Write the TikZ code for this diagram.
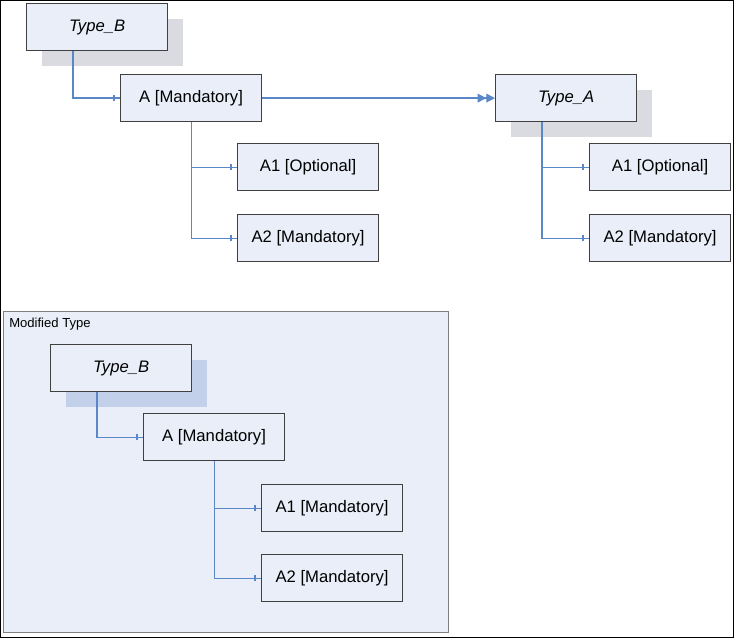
\documentclass[tikz,border=0pt]{standalone}
\usepackage{fontspec}
\setmainfont{Liberation Sans}
\usetikzlibrary{arrows.meta,shadows,decorations.markings}

\definecolor{boxfill}{HTML}{E9EEF8}
\definecolor{boxline}{HTML}{404040}
\definecolor{framegray}{HTML}{7F7F7F}
\definecolor{shadowgray}{HTML}{D9DBE1}
\definecolor{modshadow}{HTML}{C2D0EA}
\definecolor{linkblue}{HTML}{5A87C8}

\begin{document}
\begin{tikzpicture}[x=0.75pt,y=-0.75pt,
    item/.style={draw=boxline, line width=0.9pt, fill=boxfill, anchor=north west,
        minimum width=105.75pt, minimum height=35.25pt, inner sep=0pt,
        font=\fontsize{12.5}{15}\selectfont},
    typebox/.style={item, font=\fontsize{12.5}{15}\selectfont\itshape,
        drop shadow={shadow xshift=11.25pt, shadow yshift=-11.25pt, fill=shadowgray, opacity=1}},
    modtype/.style={item, font=\fontsize{12.5}{15}\selectfont\itshape,
        drop shadow={shadow xshift=11.25pt, shadow yshift=-11.25pt, fill=modshadow, opacity=1}},
    link/.style={color=linkblue, line width=0.9pt},
    tickend/.style={link, postaction={decorate},
        decoration={markings, mark=at position 1 with {\draw[link] (-4.5pt,-2.4pt) -- (-4.5pt,2.4pt);}}}
]
    \useasboundingbox (0,0) rectangle (734,638);
    \draw[black, line width=0.9pt] (0.5,0.5) rectangle (733.5,637.4);

    % original type
    \node[typebox] (tb) at (26,3) {Type\_B};
    \node[item] (am) at (120,74) {A [Mandatory]};
    \node[item] (ao) at (237,143) {A1 [Optional]};
    \node[item] (aw) at (237,214) {A2 [Mandatory]};

    \node[typebox] (ta) at (495,74) {Type\_A};
    \node[item] (tao) at (589,143) {A1 [Optional]};
    \node[item] (taw) at (589,214) {A2 [Mandatory]};

    \draw[tickend] ([xshift=35.25pt]tb.south west) |- (am.west);
    \draw[tickend] (am.south) |- (ao.west);
    \draw[tickend] (am.south) |- (aw.west);
    \draw[link, -{Triangle[length=6.5pt,width=6.5pt]Triangle[length=6.5pt,width=6.5pt]}] (am.east) -- (ta.west);

    \draw[tickend] ([xshift=35.25pt]ta.south west) |- (tao.west);
    \draw[tickend] ([xshift=35.25pt]ta.south west) |- (taw.west);

    % modified type
    \node[draw=framegray, line width=0.9pt, fill=boxfill, anchor=north west,
        minimum width=333.75pt, minimum height=240.75pt, inner sep=0pt] (mod) at (3,311) {};
    \node[anchor=west, inner sep=0pt, font=\fontsize{9.8}{12}\selectfont] (modlabel) at (9,324) {Modified Type};

    \node[modtype] (mb) at (50,344) {Type\_B};
    \node[item] (mm) at (143,413) {A [Mandatory]};
    \node[item] (m1) at (261,484) {A1 [Mandatory]};
    \node[item] (m2) at (261,554) {A2 [Mandatory]};

    \draw[tickend] ([xshift=35.25pt]mb.south west) |- (mm.west);
    \draw[tickend] (mm.south) |- (m1.west);
    \draw[tickend] (mm.south) |- (m2.west);

\end{tikzpicture}
\end{document}
